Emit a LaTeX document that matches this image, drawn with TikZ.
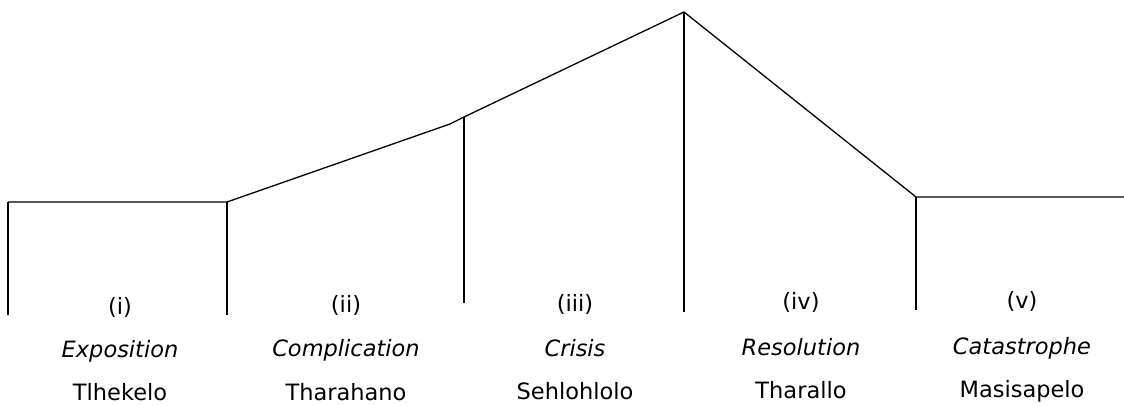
\documentclass[tikz,border=0pt]{standalone}
\usepackage{fontspec}
\setmainfont{DejaVu Sans}
\usepackage{tikz}

\tikzset{
    stage/.style={anchor=base, font=\fontsize{22.5}{27}\selectfont, inner sep=0pt},
}

\begin{document}
\begin{tikzpicture}[x=1pt, y=-1pt, line width=1.3pt]
    \useasboundingbox (0,0) rectangle (1124,406);
    % plot line
    \coordinate (start) at (8,202);
    \coordinate (expo) at (227,202);
    \coordinate (bend) at (450,124);
    \coordinate (comp) at (464,117);
    \coordinate (peak) at (684,12);
    \coordinate (reso) at (916,197);
    \coordinate (stop) at (1124,197);
    \draw (start) -- (expo) -- (bend) -- (comp) -- (peak) -- (reso) -- (stop);
    % dividers
    \draw (start) -- (8,315);
    \draw (expo) -- (227,315);
    \draw (comp) -- (464,303);
    \draw (peak) -- (684,312);
    \draw (reso) -- (916,310);
    % labels
    \node[stage] (num1) at (120,314) {(i)};
    \node[stage] (eng1) at (120,357) {\itshape Exposition};
    \node[stage] (ses1) at (120,400) {Tlhekelo};
    \node[stage] (num2) at (346,312) {(ii)};
    \node[stage] (eng2) at (346,356) {\itshape Complication};
    \node[stage] (ses2) at (346,400) {Tharahano};
    \node[stage] (num3) at (575,311) {(iii)};
    \node[stage] (eng3) at (575,356) {\itshape Crisis};
    \node[stage] (ses3) at (575,399) {Sehlohlolo};
    \node[stage] (num4) at (801,309) {(iv)};
    \node[stage] (eng4) at (801,355) {\itshape Resolution};
    \node[stage] (ses4) at (801,398) {Tharallo};
    \node[stage] (num5) at (1022,308) {(v)};
    \node[stage] (eng5) at (1022,354) {\itshape Catastrophe};
    \node[stage] (ses5) at (1022,397) {Masisapelo};
\end{tikzpicture}
\end{document}
